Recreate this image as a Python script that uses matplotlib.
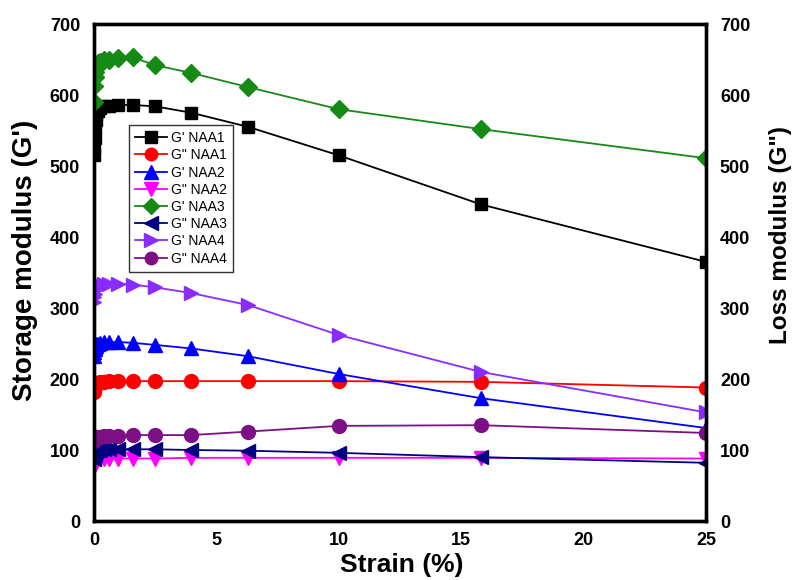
import matplotlib
matplotlib.use("Agg")
import matplotlib.pyplot as plt

plt.rcParams['font.family'] = ['Liberation Sans', 'DejaVu Sans']

strain = [0.01, 0.0158, 0.0251, 0.0398, 0.0631, 0.1, 0.158, 0.251, 0.398,
          0.631, 1.0, 1.58, 2.51, 3.98, 6.31, 10.0, 15.8, 25.0]

g1_storage = [515, 525, 540, 555, 565, 573, 578, 582, 584, 585, 586, 586,
              584, 575, 555, 515, 446, 365]
g1_loss = [182, 186, 189, 191, 193, 194, 195, 196, 196, 197, 197, 197,
           197, 197, 197, 197, 196, 188]
g2_storage = [232, 238, 242, 245, 247, 249, 250, 251, 252, 252, 252, 251,
              248, 243, 232, 207, 173, 131]
g2_loss = [76, 79, 82, 84, 85, 86, 87, 87, 88, 88, 88, 88,
           88, 89, 89, 89, 89, 88]
g3_storage = [590, 612, 625, 633, 638, 642, 645, 647, 649, 650, 652, 653,
              642, 631, 611, 580, 552, 511]
g3_loss = [88, 92, 95, 97, 98, 99, 100, 100, 101, 101, 101, 101,
           101, 100, 99, 96, 90, 82]
g4_storage = [308, 315, 320, 325, 328, 330, 332, 333, 334, 334, 334, 333,
              329, 321, 304, 262, 210, 153]
g4_loss = [112, 114, 116, 117, 118, 118, 119, 119, 120, 120, 120, 121,
           121, 121, 126, 134, 135, 124]

series = [
    ("G' NAA1", g1_storage, '#000000', 's', 9),
    ('G" NAA1', g1_loss, '#ff0000', 'o', 10),
    ("G' NAA2", g2_storage, '#0000ff', '^', 10.5),
    ('G" NAA2', g2_loss, '#ff00ff', 'v', 10.5),
    ("G' NAA3", g3_storage, '#158a15', 'D', 9),
    ('G" NAA3', g3_loss, '#000080', '<', 10.5),
    ("G' NAA4", g4_storage, '#8a2bff', '>', 10.5),
    ('G" NAA4', g4_loss, '#7d0f86', 'o', 10),
]

fig = plt.figure(figsize=(7.93, 5.8), dpi=100)
ax = fig.add_axes([0.1185, 0.1017, 0.7718, 0.8569])

for label, vals, color, marker, ms in series:
    ax.plot(strain, vals, color=color, marker=marker, markersize=ms,
            markerfacecolor=color, markeredgecolor=color, linewidth=1.3,
            label=label)

ax.set_xlim(0, 25)
ax.set_ylim(0, 700)
ax.set_xticks([0, 5, 10, 15, 20, 25])
ax.set_yticks(range(0, 701, 100))

ax2 = ax.twinx()
ax2.set_ylim(0, 700)
ax2.set_yticks(range(0, 701, 100))

for a in (ax, ax2):
    for sp in a.spines.values():
        sp.set_linewidth(2.4)
    a.tick_params(length=0, labelsize=13, pad=10)
    for t in a.get_xticklabels() + a.get_yticklabels():
        t.set_fontweight('bold')
ax.tick_params(axis='x', pad=8)

ax.set_xlabel('Strain (%)', fontsize=19, fontweight='bold', va='center')
ax.xaxis.set_label_coords(0.503, -0.089)
ax.set_ylabel("Storage modulus (G')", fontsize=20, fontweight='bold',
              va='center')
ax.yaxis.set_label_coords(-0.113, 0.525)
ax2.set_ylabel('Loss modulus (G")', fontsize=17.5, fontweight='bold',
               rotation=90, va='center')
ax2.yaxis.set_label_coords(1.121, 0.575)

leg = ax.legend(loc='upper left', bbox_to_anchor=(0.057, 0.797),
                borderaxespad=0, fontsize=10, frameon=True, fancybox=False,
                edgecolor='black', handlelength=2.3, handletextpad=0.25,
                labelspacing=0.23, borderpad=0.45, markerscale=0.9)
leg.get_frame().set_linewidth(1.0)

fig.savefig('out.png', dpi=100)
